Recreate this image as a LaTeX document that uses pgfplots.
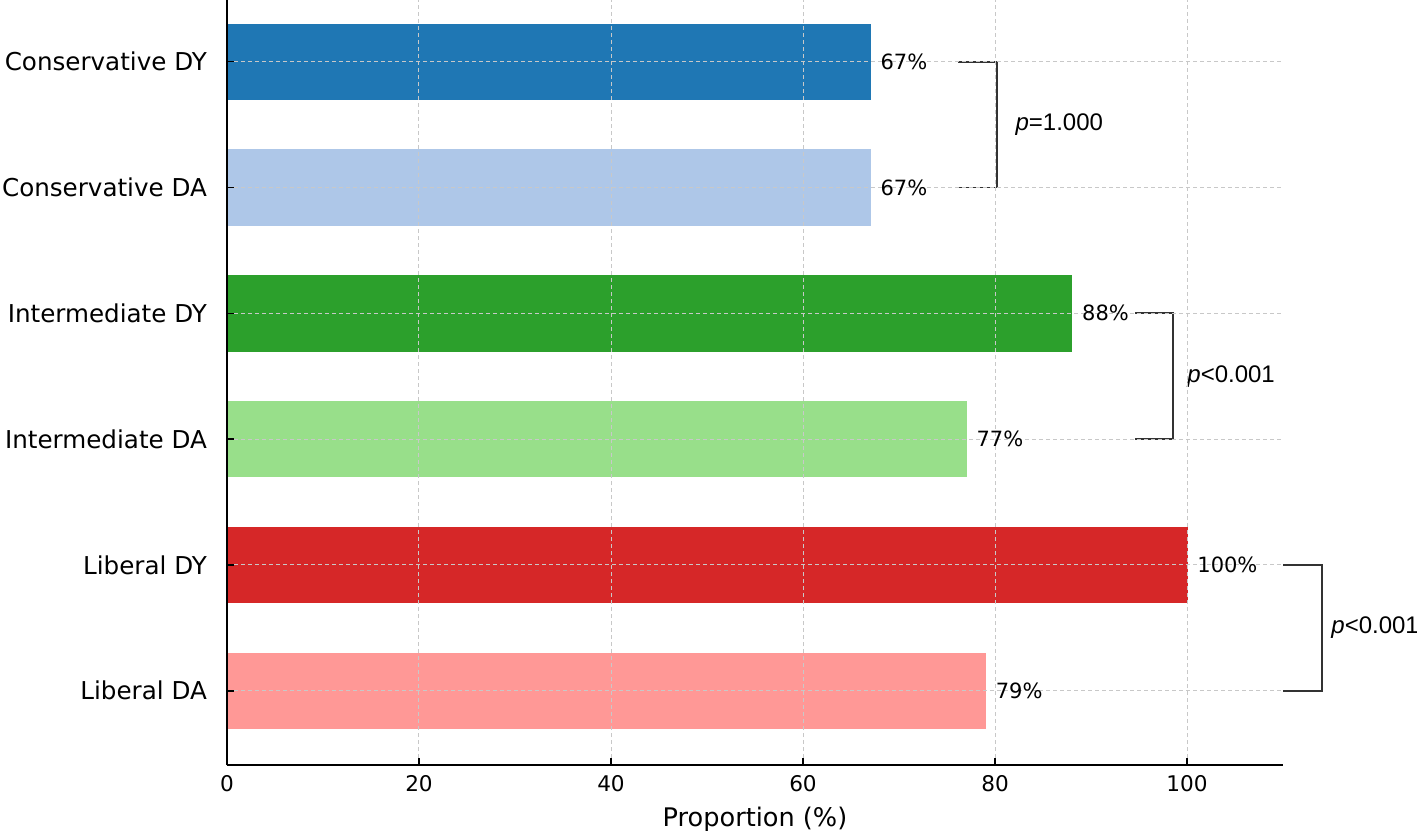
\documentclass[border=0pt]{standalone}
\usepackage{pgfplots}
\pgfplotsset{compat=1.18}
\usepackage{fontspec}
\setmainfont{DejaVu Sans}
\newfontfamily\arialf{Liberation Sans}
\definecolor{c1}{HTML}{1F77B4}
\definecolor{c2}{HTML}{AEC7E8}
\definecolor{c3}{HTML}{2CA02C}
\definecolor{c4}{HTML}{98DF8A}
\definecolor{c5}{HTML}{D62728}
\definecolor{c6}{HTML}{FF9896}
\definecolor{gridc}{HTML}{C8C8C8}
\definecolor{brk}{HTML}{333333}
\begin{document}
\begin{tikzpicture}
\path[use as bounding box] (-113.5pt,-32.5pt) rectangle (595pt,382.5pt);
\begin{axis}[
  at={(0,0)}, anchor=south west,
  scale only axis, width=528pt, height=382.5pt,
  xmin=0, xmax=110, ymin=-0.59, ymax=5.49,
  axis x line*=bottom, axis y line*=left,
  axis line style={line width=1.1pt, black},
  xtick={0,20,40,60,80,100},
  ytick={0,1,2,3,4,5},
  yticklabels={Liberal DA, Liberal DY, Intermediate DA, Intermediate DY, Conservative DA, Conservative DY},
  tick align=inside,
  major tick length=3.5pt,
  tick style={line width=0.8pt, black},
  /pgf/number format/assume math mode=true,
  xticklabel style={font=\fontsize{10.8}{12}\selectfont, yshift=-1.5pt},
  yticklabel style={font=\fontsize{12.3}{14}\selectfont, xshift=-6.5pt},
  xlabel={Proportion (\%)},
  xlabel style={font=\fontsize{12.8}{15}\selectfont, yshift=-1pt},
  grid=major,
  major grid style={gridc, dash pattern=on 2pt off 1.5pt, line width=0.5pt},
  axis on top,
  clip=false,
  point meta=x,
  nodes near coords={\pgfmathprintnumber{\pgfplotspointmeta}\%},
  nodes near coords style={anchor=west, inner sep=0pt, xshift=5pt, font=\fontsize{10.5}{12}\selectfont, black},
]
\addplot[xbar, bar width=0.6, bar shift=0pt, fill=c6, draw=c6] coordinates {(79,0)};
\addplot[xbar, bar width=0.6, bar shift=0pt, fill=c5, draw=c5] coordinates {(100,1)};
\addplot[xbar, bar width=0.6, bar shift=0pt, fill=c4, draw=c4] coordinates {(77,2)};
\addplot[xbar, bar width=0.6, bar shift=0pt, fill=c3, draw=c3] coordinates {(88,3)};
\addplot[xbar, bar width=0.6, bar shift=0pt, fill=c2, draw=c2] coordinates {(67,4)};
\addplot[xbar, bar width=0.6, bar shift=0pt, fill=c1, draw=c1] coordinates {(67,5)};
% brackets
\addplot[brk, line width=0.9pt, mark=none, nodes near coords={}] coordinates {(76.1,5) (80.2,5) (80.2,4) (76.1,4)};
\addplot[brk, line width=0.9pt, mark=none, nodes near coords={}] coordinates {(94.6,3) (98.5,3) (98.5,2) (94.6,2)};
\addplot[brk, line width=0.9pt, mark=none, nodes near coords={}] coordinates {(110,1) (114.1,1) (114.1,0) (110,0)};
\node[anchor=west, inner sep=0pt, font=\arialf\fontsize{12}{14}\selectfont] at (axis cs:82.1,4.5) {\textit{p}=1.000};
\node[anchor=west, inner sep=0pt, font=\arialf\fontsize{12}{14}\selectfont] at (axis cs:100,2.5) {\textit{p}<0.001};
\node[anchor=west, inner sep=0pt, font=\arialf\fontsize{12}{14}\selectfont] at (axis cs:115,0.5) {\textit{p}<0.001};
\end{axis}
\end{tikzpicture}
\end{document}
